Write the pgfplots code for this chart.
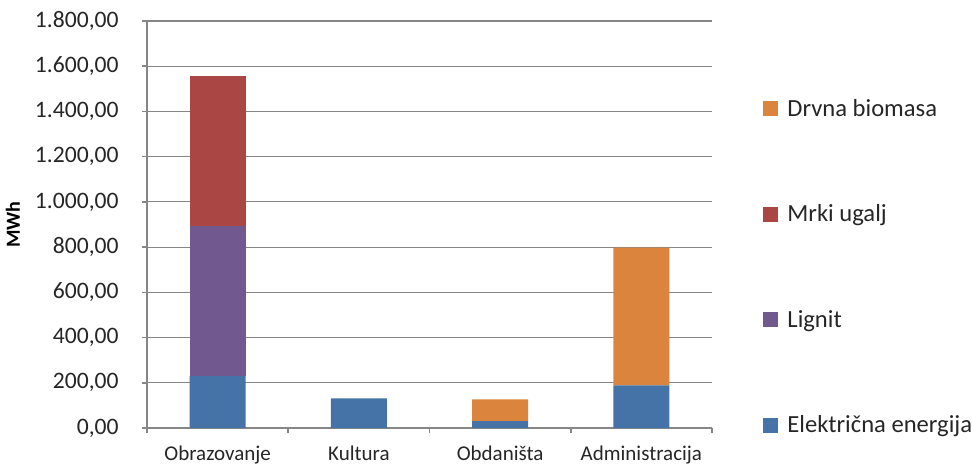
\documentclass[border=0pt]{standalone}
\usepackage{fontspec}
\setmainfont{Carlito}
\usepackage{pgfplots}
\pgfplotsset{compat=1.18}
\definecolor{cBlue}{RGB}{69,114,167}
\definecolor{cPurple}{RGB}{113,88,143}
\definecolor{cRed}{RGB}{170,70,67}
\definecolor{cOrange}{RGB}{219,132,61}
\definecolor{cGrid}{RGB}{134,134,134}
\begin{document}
\begin{tikzpicture}
\begin{axis}[
  at={(0pt,0pt)}, anchor=south west,
  scale only axis, width=282.5pt, height=203.5pt,
  ybar stacked, bar width=28pt,
  xmin=-0.5, xmax=3.5, ymin=0, ymax=1800,
  ytick={0,200,...,1800},
  scaled y ticks=false,
  xtick={-0.5,0.5,1.5,2.5,3.5}, xticklabels={},
  extra x ticks={0,1,2,3},
  extra x tick labels={Obrazovanje,Kultura,Obdaništa,Administracija},
  extra x tick style={major tick length=0pt, xticklabel style={font=\fontsize{10.5}{12}\selectfont, color=black!85, anchor=base, inner sep=0pt, yshift=-16pt}},
  axis x line*=bottom, axis y line*=left,
  axis line style={cGrid, line width=0.75pt, -},
  tick align=outside, major tick length=2.5pt,
  tick style={cGrid, line width=0.75pt},
  ymajorgrids, grid style={cGrid, line width=0.6pt},
  yticklabel style={font=\fontsize{11.8}{13}\selectfont, color=black!85, inner sep=0pt, xshift=-11.5pt},
  ylabel={MWh},
  ylabel style={font=\bfseries\fontsize{10}{12}\selectfont, at={(axis description cs:-0.2372,0.5)}, anchor=center},
  legend style={draw=none, fill=none, inner sep=0pt, at={(axis description cs:1.0903,-0.0297)}, anchor=south west, row sep=38.7pt, column sep=2.5pt, font=\fontsize{12.3}{14}\selectfont, cells={anchor=base west}, text=black!85},
  reverse legend,
  legend image code/.code={\fill[#1] (0pt,0pt) rectangle (7.5pt,7.5pt);},
  /pgf/number format/fixed,
  /pgf/number format/fixed zerofill,
  /pgf/number format/precision=2,
  /pgf/number format/use comma,
  /pgf/number format/1000 sep={.},
  /pgf/number format/assume math mode=true,
]
\addplot[fill=cBlue, draw=none] coordinates {(0,229) (1,131) (2,30) (3,189)};
\addplot[fill=cPurple, draw=none] coordinates {(0,664) (1,0) (2,0) (3,0)};
\addplot[fill=cRed, draw=none] coordinates {(0,664) (1,0) (2,0) (3,0)};
\addplot[fill=cOrange, draw=none] coordinates {(0,0) (1,0) (2,97) (3,609)};
\legend{Električna energija, Lignit, Mrki ugalj, Drvna biomasa}
\end{axis}
\pgfresetboundingbox
\useasboundingbox (-73.5pt,-17.5pt) rectangle (412.5pt,214pt);
\end{tikzpicture}
\end{document}
